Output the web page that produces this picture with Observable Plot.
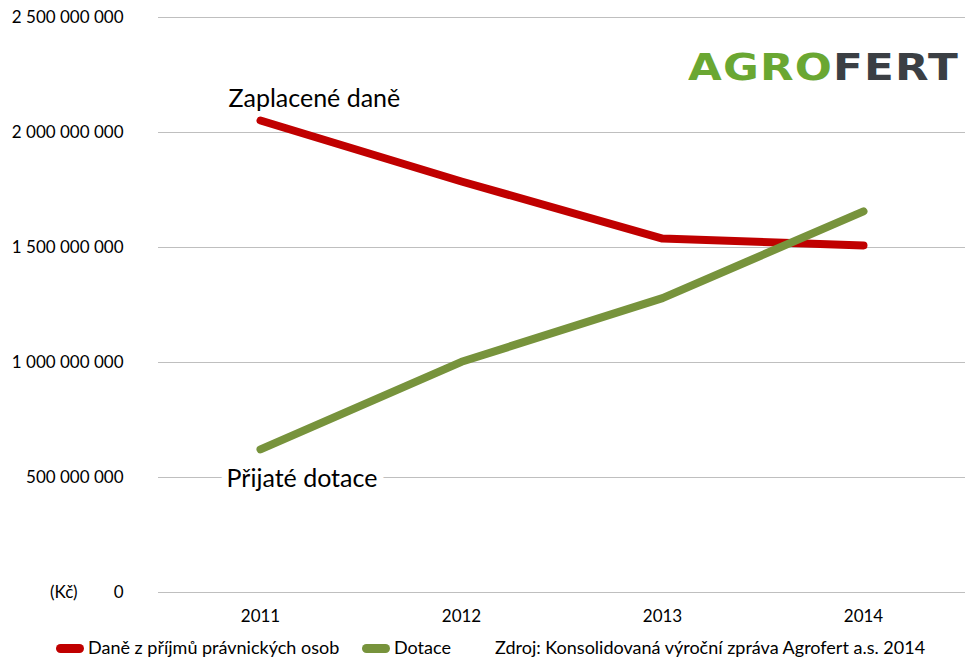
<!DOCTYPE html>
<html><head><meta charset="utf-8">
<script src="https://cdn.jsdelivr.net/npm/d3@7"></script>
<script src="https://cdn.jsdelivr.net/npm/@observablehq/plot@0.6"></script>
<style>
body{margin:0;background:#fff;font-family:Lato,"Open Sans",sans-serif;}
#wrap{position:relative;width:978px;height:670px;}
#logo{position:absolute;left:688px;top:48px;font-family:"DejaVu Sans",sans-serif;font-weight:bold;font-size:37px;letter-spacing:1px;line-height:40px;transform:scaleX(1.18);transform-origin:left;}
#kc{position:absolute;left:50px;top:581px;font-size:17px;color:#000;}
#legend{position:absolute;left:0;top:636px;font-size:18px;color:#000;white-space:nowrap;}
.sw{position:absolute;top:8px;width:28px;height:9px;border-radius:5px;}
.lt{position:absolute;top:0;}
</style></head><body>
<div id="wrap">
<div id="chart"></div>
<div id="logo"><span style="color:#6aa732">AGRO</span><span style="color:#3b3f44">FERT</span></div>
<div id="kc">(Kč)</div>
<div id="legend"></div>
</div>
<script>
const years = ["2011","2012","2013","2014"];
const taxes = [2052000000, 1787000000, 1539000000, 1509000000];
const subsidies = [622000000, 1003000000, 1280000000, 1657000000];
const yTicks = [0, 500000000, 1000000000, 1500000000, 2000000000, 2500000000];
const seriesNames = ["Daně z příjmů právnických osob", "Dotace"];
const seriesColors = ["#c00000", "#77933c"];
const annotations = ["Zaplacené daně", "Přijaté dotace"];
const source = "Zdroj: Konsolidovaná výroční zpráva Agrofert a.s. 2014";

const rows = [];
years.forEach((y,i)=>{rows.push({year:y,value:taxes[i],s:seriesNames[0]});});
years.forEach((y,i)=>{rows.push({year:y,value:subsidies[i],s:seriesNames[1]});});

const fmt = d => d3.format(",")(d).replace(/,/g, " ");

const chart = Plot.plot({
  width: 978, height: 630,
  marginLeft: 158, marginRight: 13, marginTop: 17, marginBottom: 38,
  style: {fontFamily: "Lato, 'Open Sans', sans-serif", fontSize: "17px", color: "#000", background: "#fff"},
  x: {type: "point", domain: years, padding: 0.5, label: null, tickSize: 0, tickPadding: 17},
  y: {domain: [0, 2500000000], ticks: yTicks, tickFormat: fmt, label: null, tickSize: 0, tickPadding: 35},
  color: {domain: seriesNames, range: seriesColors},
  marks: [
    Plot.ruleY(yTicks, {stroke: "#bfbfbf", strokeWidth: 1.2}),
    Plot.line(rows, {x: "year", y: "value", z: "s", stroke: "s", strokeWidth: 8, strokeLinecap: "round", strokeLinejoin: "round"}),
    Plot.text([annotations[0]], {x: () => years[0], y: () => taxes[0], text: d => d, textAnchor: "start", dx: -32, dy: -22, fontSize: 25, fill: "#000"}),
    Plot.text([annotations[1]], {x: () => years[0], y: () => subsidies[0], text: d => d, textAnchor: "start", dx: -34, dy: 30, fontSize: 25, fill: "#000", stroke: "#fff", strokeWidth: 14})
  ]
});
document.getElementById("chart").appendChild(chart);

const lg = document.getElementById("legend");
const items = [
  {kind:"sw", color: seriesColors[0], x: 56},
  {kind:"t", text: seriesNames[0], x: 88},
  {kind:"sw", color: seriesColors[1], x: 362},
  {kind:"t", text: seriesNames[1], x: 394},
  {kind:"t", text: source, x: 495}
];
items.forEach(it=>{
  const d = document.createElement("div");
  if (it.kind==="sw"){d.className="sw";d.style.background=it.color;}
  else {d.className="lt";d.textContent=it.text;}
  d.style.left = it.x+"px";
  lg.appendChild(d);
});
</script>
</body></html>
